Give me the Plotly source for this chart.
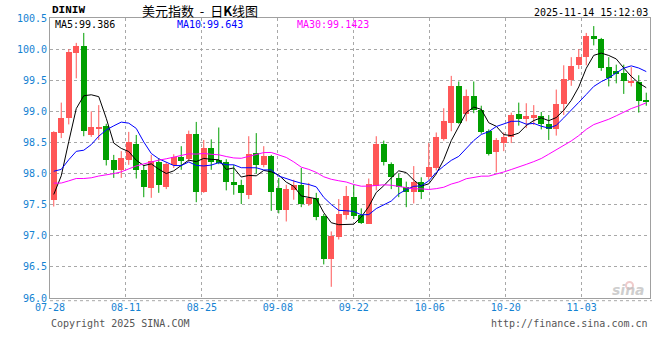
import plotly.graph_objects as go
import pandas as pd

# ---- data ----
dates = [d.strftime("%m-%d") for d in pd.bdate_range("2025-07-28", periods=80)]

open_ = [97.57, 98.65, 98.90, 99.93, 100.05, 98.62, 98.73, 98.77, 98.22, 98.06,
         98.22, 98.48, 98.06, 97.77, 98.18, 97.78, 98.13, 98.26, 98.23, 98.64,
         97.70, 98.41, 98.22, 98.19, 97.87, 97.82, 97.66, 98.33, 98.14, 98.28,
         97.77, 97.42, 97.74, 97.82, 97.51, 97.61, 97.32, 96.63, 96.98, 97.34,
         97.62, 97.33, 97.19, 97.80, 98.48, 98.16, 97.93, 97.78, 97.70, 97.87,
         97.94, 98.09, 98.56, 98.82, 99.40, 98.95, 99.25, 99.02, 98.69, 98.34,
         98.49, 98.58, 98.96, 98.88, 98.90, 98.93, 98.80, 98.71, 99.12, 99.50,
         99.75, 99.88, 100.21, 100.16, 99.71, 99.65, 99.61, 99.45, 99.47, 99.19]
high = [98.68, 99.14, 100.00, 100.10, 100.26, 99.00, 99.10, 98.80, 98.30, 98.36,
        98.67, 98.62, 98.14, 98.30, 98.25, 98.18, 98.31, 98.44, 98.69, 98.83,
        98.54, 98.55, 98.74, 98.23, 98.14, 97.90, 98.60, 98.65, 98.44, 98.30,
        97.93, 97.82, 97.90, 98.09, 97.85, 97.69, 97.35, 97.07, 97.59, 97.80,
        97.82, 97.44, 97.92, 98.60, 98.53, 98.18, 98.00, 97.87, 98.12, 97.94,
        98.49, 98.66, 99.05, 99.57, 99.48, 99.35, 99.48, 99.09, 98.71, 98.57,
        98.66, 98.98, 99.14, 99.13, 99.10, 98.99, 98.94, 99.35, 99.74, 99.87,
        100.00, 100.26, 100.37, 100.18, 99.87, 99.75, 99.75, 99.71, 99.58, 99.30]
low = [97.47, 98.57, 98.79, 99.53, 98.60, 98.59, 98.54, 98.13, 97.93, 97.93,
       98.14, 97.92, 97.62, 97.61, 97.69, 97.75, 98.09, 98.06, 98.19, 97.54,
       97.69, 98.06, 98.15, 97.73, 97.66, 97.51, 97.59, 98.00, 98.10, 97.40,
       97.36, 97.23, 97.58, 97.46, 97.48, 97.25, 96.54, 96.18, 96.94, 97.26,
       97.27, 97.19, 97.19, 97.73, 98.13, 97.75, 97.62, 97.46, 97.52, 97.59,
       97.90, 98.05, 98.53, 98.68, 98.80, 98.84, 98.97, 98.64, 98.29, 98.02,
       98.36, 98.49, 98.77, 98.73, 98.78, 98.71, 98.54, 98.61, 98.94, 99.41,
       99.68, 99.74, 100.06, 99.65, 99.40, 99.45, 99.28, 99.40, 98.98, 99.09]
close = [98.67, 98.90, 99.95, 100.05, 98.68, 98.75, 98.75, 98.21, 98.06, 98.25,
         98.50, 98.05, 97.78, 98.20, 97.82, 98.15, 98.27, 98.20, 98.64, 97.70,
         98.41, 98.19, 98.17, 97.86, 97.82, 97.68, 98.32, 98.14, 98.29, 97.71,
         97.42, 97.75, 97.81, 97.51, 97.61, 97.30, 96.63, 97.00, 97.35, 97.64,
         97.31, 97.21, 97.84, 98.48, 98.18, 97.94, 97.78, 97.70, 97.87, 97.71,
         98.11, 98.58, 98.85, 99.40, 98.82, 99.25, 99.02, 98.67, 98.32, 98.54,
         98.58, 98.94, 98.87, 98.93, 98.94, 98.80, 98.71, 99.12, 99.52, 99.73,
         99.88, 100.21, 100.16, 99.70, 99.54, 99.60, 99.48, 99.49, 99.17, 99.16]
# closes before the visible window (estimated), only used to warm up the moving averages
prior_close = [98.85, 98.90, 98.90, 98.70, 98.40, 97.90, 97.70, 97.40, 97.40, 96.90,
               96.80, 96.80, 97.20, 97.00, 97.50, 97.50, 97.55, 97.65, 97.85, 98.10,
               98.60, 98.40, 98.70, 98.50, 97.85, 97.40, 97.20, 97.40, 97.65]

tick_dates = ["07-28", "08-11", "08-25", "09-08", "09-22", "10-06", "10-20", "11-03"]
y_ticks = [96.0, 96.5, 97.0, 97.5, 98.0, 98.5, 99.0, 99.5, 100.0, 100.5]
ma_periods = [5, 10, 30]
ma_values = ["99.386", "99.643", "99.1423"]
ma_colors = ["#000000", "#0000FF", "#FF00FF"]

RED = "#FF5757"
GREEN = "#009F00"
TICK_BLUE = "#1482D2"
FRAME = "#A0A0A0"
GRID = "#A8A8A8"
MONO = "DejaVu Sans Mono"

# ---- figure ----
n = len(close)
idx = list(range(n))
fig = go.Figure()

# wicks
for is_up, col in [(True, RED), (False, GREEN)]:
    wx, wy = [], []
    for i in idx:
        if (close[i] >= open_[i]) == is_up:
            wx += [i, i, None]
            wy += [low[i], high[i], None]
    fig.add_trace(go.Scatter(x=wx, y=wy, mode="lines", line=dict(color=col, width=1),
                             hoverinfo="skip", showlegend=False))

# bodies
for is_up, col in [(True, RED), (False, GREEN)]:
    bx, bb, bh = [], [], []
    for i in idx:
        if (close[i] >= open_[i]) == is_up:
            lo_, hi_ = min(open_[i], close[i]), max(open_[i], close[i])
            h = max(hi_ - lo_, 0.018)
            bx.append(i)
            bb.append(lo_ if hi_ - lo_ >= 0.018 else (lo_ + hi_) / 2 - 0.009)
            bh.append(h)
    fig.add_trace(go.Bar(x=bx, y=bh, base=bb, width=0.76, marker=dict(color=col, line=dict(width=0)),
                         hoverinfo="skip", showlegend=False))

# moving averages
all_close = pd.Series(prior_close + close)
for p, col in zip(ma_periods, ma_colors):
    ma = all_close.rolling(p).mean().iloc[len(prior_close):].tolist()
    fig.add_trace(go.Scatter(x=idx, y=ma, mode="lines", line=dict(color=col, width=1),
                             hoverinfo="skip", showlegend=False))

# layout geometry (pixels)
W, H = 660, 360
L, R, T, B = 50, 10, 18, 62
PW, PH = W - L - R, H - T - B


def px(xp):
    return (xp - L) / PW


def py(yp):
    return (H - B - yp) / PH


tick_idx = [dates.index(d) for d in tick_dates]
tickvals = [k * n / (n - 1) - 0.5 for k in tick_idx]

fig.update_layout(
    width=W, height=H,
    margin=dict(l=L, r=R, t=T, b=B),
    paper_bgcolor="white", plot_bgcolor="white",
    barmode="overlay", bargap=0,
    showlegend=False,
    xaxis=dict(range=[-0.5, n - 0.5], tickvals=tickvals, ticktext=tick_dates,
               showgrid=True, gridcolor=GRID, griddash="dot", gridwidth=1,
               showline=True, linecolor=FRAME, linewidth=1, mirror=True,
               ticks="", zeroline=False,
               tickfont=dict(family=MONO, size=10, color=TICK_BLUE)),
    yaxis=dict(range=[96.0, 100.5], tickvals=y_ticks, tickformat=".1f",
               showgrid=True, gridcolor=GRID, griddash="dot", gridwidth=1,
               showline=True, linecolor=FRAME, linewidth=1, mirror=True,
               ticks="", zeroline=False,
               tickfont=dict(family=MONO, size=10, color=TICK_BLUE)),
)

ann = []
ann.append(dict(text="<b>DINIW</b>", x=px(50), y=py(10), xanchor="left", yanchor="middle",
                font=dict(family="Liberation Mono", size=11, color="#000000")))
ann.append(dict(text="美元指数 &nbsp;-&nbsp; 日<b>K</b>线图", x=px(200), y=py(10), xanchor="center", yanchor="middle",
                font=dict(family="Noto Sans CJK SC", size=13, color="#000000")))
ann.append(dict(text="2025-11-14 15:12:03", x=px(650), y=py(12), xanchor="right", yanchor="middle",
                font=dict(family=MONO, size=10, color="#000000")))
for p, v, col, xl in zip(ma_periods, ma_values, ma_colors, [53, 175, 295]):
    ann.append(dict(text=f"MA{p}:{v}", x=px(xl), y=py(24), xanchor="left", yanchor="middle",
                    font=dict(family=MONO, size=10, color=col)))
ann.append(dict(text="Copyright 2025 SINA.COM", x=px(49), y=py(323), xanchor="left", yanchor="middle",
                font=dict(family=MONO, size=10, color="#555555")))
ann.append(dict(text="http://finance.sina.com.cn", x=px(650), y=py(323), xanchor="right", yanchor="middle",
                font=dict(family=MONO, size=10, color="#555555")))
ann.append(dict(text="<b><i>sina</i></b>", x=px(647), y=py(290), xanchor="right", yanchor="middle",
                font=dict(family="DejaVu Sans", size=14, color="rgba(190,190,190,0.75)")))
for a in ann:
    a.update(xref="paper", yref="paper", showarrow=False)
fig.update_layout(annotations=ann)

fig.add_shape(type="line", xref="paper", yref="paper", x0=0, x1=px(652), y0=py(300.7), y1=py(300.7),
              line=dict(color=GRID, width=1, dash="dot"))
fig.add_shape(type="circle", xref="paper", yref="paper", x0=px(626), x1=px(633), y0=py(289), y1=py(282),
              line=dict(color="rgba(225,160,160,0.55)", width=2))

fig.write_html("out.html")
